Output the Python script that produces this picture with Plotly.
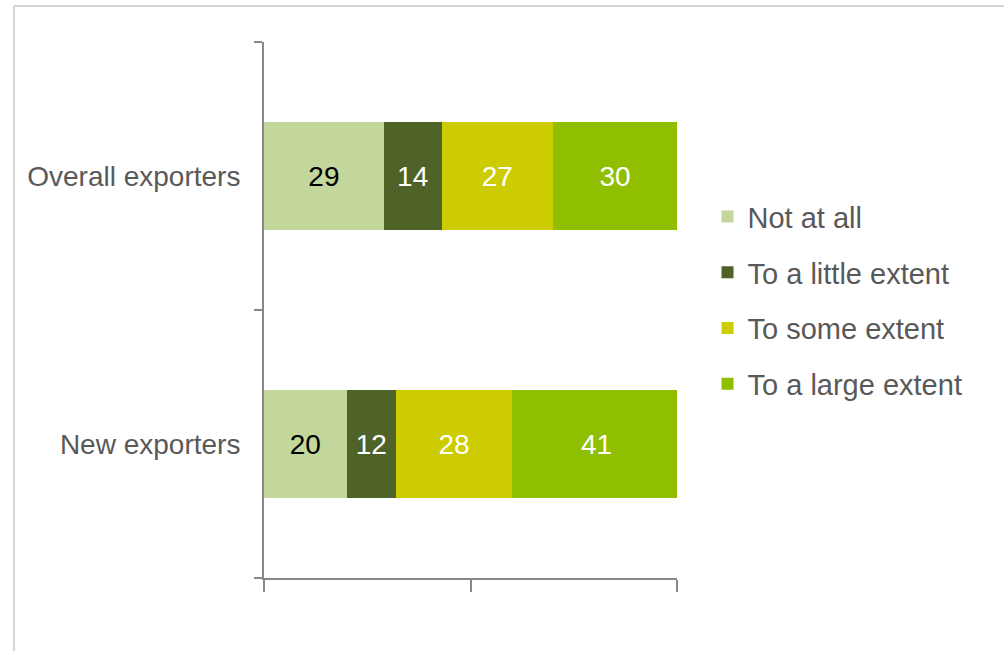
import plotly.graph_objects as go

# Survey shares (%) by exporter group
groups = ["New exporters", "Overall exporters"]
responses = ["Not at all", "To a little extent", "To some extent", "To a large extent"]
not_at_all = [20, 29]
little_extent = [12, 14]
some_extent = [28, 27]
large_extent = [41, 30]

series = [not_at_all, little_extent, some_extent, large_extent]
colors = ["#C3D69B", "#4F6228", "#CCCC00", "#8FBF00"]
label_colors = ["#000000", "#FFFFFF", "#FFFFFF", "#FFFFFF"]

FONT = "Liberation Sans, Arial, sans-serif"
AXIS = "#878787"

fig = go.Figure()
for name, vals, col, lc in zip(responses, series, colors, label_colors):
    fig.add_trace(go.Bar(
        y=groups, x=vals, name=name, orientation="h",
        marker=dict(color=col, line=dict(width=0)),
        text=[str(v) for v in vals], textposition="inside",
        insidetextanchor="middle", textangle=0,
        insidetextfont=dict(family=FONT, size=28, color=lc),
        width=0.4, legendgroup=name,
    ))

fig.update_layout(
    barmode="stack",
    width=1004, height=651,
    margin=dict(l=264, r=327, t=42, b=73, autoexpand=False),
    paper_bgcolor="white", plot_bgcolor="white",
    font=dict(family=FONT, color="#595959", size=28),
    showlegend=True,
    legend=dict(
        x=1.0739, y=0.7216, xanchor="left", yanchor="top",
        traceorder="grouped", tracegroupgap=15,
        font=dict(family=FONT, size=29, color="#595959"),
        itemwidth=30, bgcolor="rgba(0,0,0,0)",
    ),
    xaxis=dict(
        range=[0, 100], tickvals=[0, 50, 100], showticklabels=False,
        ticks="outside", ticklen=12, tickwidth=2, tickcolor=AXIS,
        showline=True, linecolor=AXIS, linewidth=2,
        showgrid=False, zeroline=False, fixedrange=True,
    ),
    yaxis=dict(
        type="category", categoryorder="array", categoryarray=groups,
        range=[-0.5, 1.5], tickson="boundaries",
        ticks="outside", ticklen=8, tickwidth=2, tickcolor=AXIS,
        showline=True, linecolor=AXIS, linewidth=2,
        showgrid=False, zeroline=False,
        tickfont=dict(family=FONT, size=28, color="#595959"),
        ticklabelstandoff=16,
    ),
    shapes=[
        # light frame around the chart area
        dict(type="line", xref="paper", yref="paper",
             x0=(14 - 264) / 413, x1=(1010 - 264) / 413,
             y0=(578 - 6) / 536, y1=(578 - 6) / 536,
             line=dict(color="#D4D4D4", width=2)),
        dict(type="line", xref="paper", yref="paper",
             x0=(14 - 264) / 413, x1=(14 - 264) / 413,
             y0=(578 - 6) / 536, y1=(578 - 660) / 536,
             line=dict(color="#D4D4D4", width=2)),
    ],
)

fig.write_html("out.html")
